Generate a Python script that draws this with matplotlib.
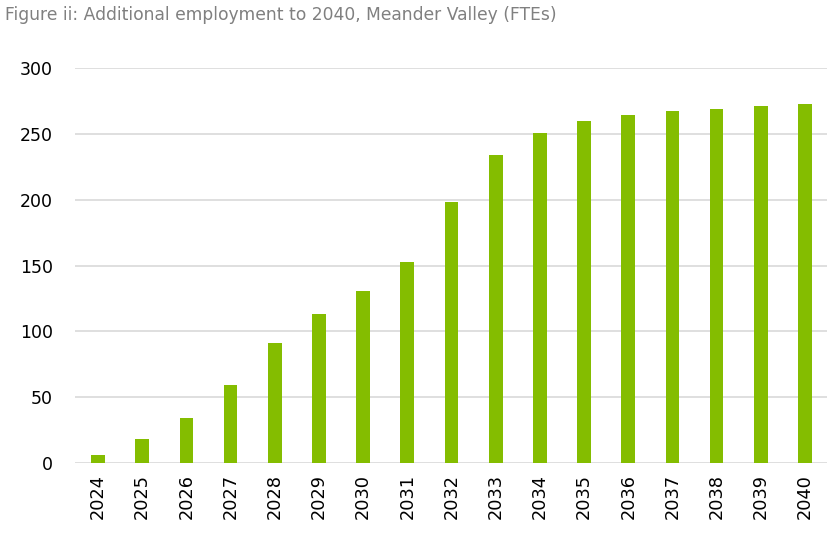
import matplotlib.pyplot as plt
import numpy as np

# data
years = ['2024', '2025', '2026', '2027', '2028', '2029', '2030', '2031', '2032',
         '2033', '2034', '2035', '2036', '2037', '2038', '2039', '2040']
ftes = [6, 18, 34, 59, 91, 113, 131, 153, 198,
        234, 251, 259.5, 264, 267, 269, 271, 273]
yticks = [0, 50, 100, 150, 200, 250, 300]

fig = plt.figure(figsize=(8.28, 5.33), dpi=100)
ax = fig.add_axes([0.0906, 0.1313, 0.9094, 0.7411])

x = np.arange(len(years))
ax.bar(x, ftes, width=0.31, color='#84BD00', zorder=3)

ax.set_xlim(-0.52, len(years) - 0.48)
ax.set_ylim(0, 300)
ax.set_yticks(yticks)
ax.set_xticks(x)
ax.set_xticklabels(years, rotation=90)
ax.tick_params(axis='y', length=0, pad=16, labelsize=12.5)
ax.tick_params(axis='x', length=0, pad=8, labelsize=12.8)

ax.grid(axis='y', color='#d9d9d9', linewidth=1.2, zorder=0)
for s in ax.spines.values():
    s.set_visible(False)

fig.text(0.006, 0.988, 'Figure ii: Additional employment to 2040, Meander Valley (FTEs)',
         fontsize=12.3, color='#808080', ha='left', va='top')

fig.savefig('out.png', dpi=100)
